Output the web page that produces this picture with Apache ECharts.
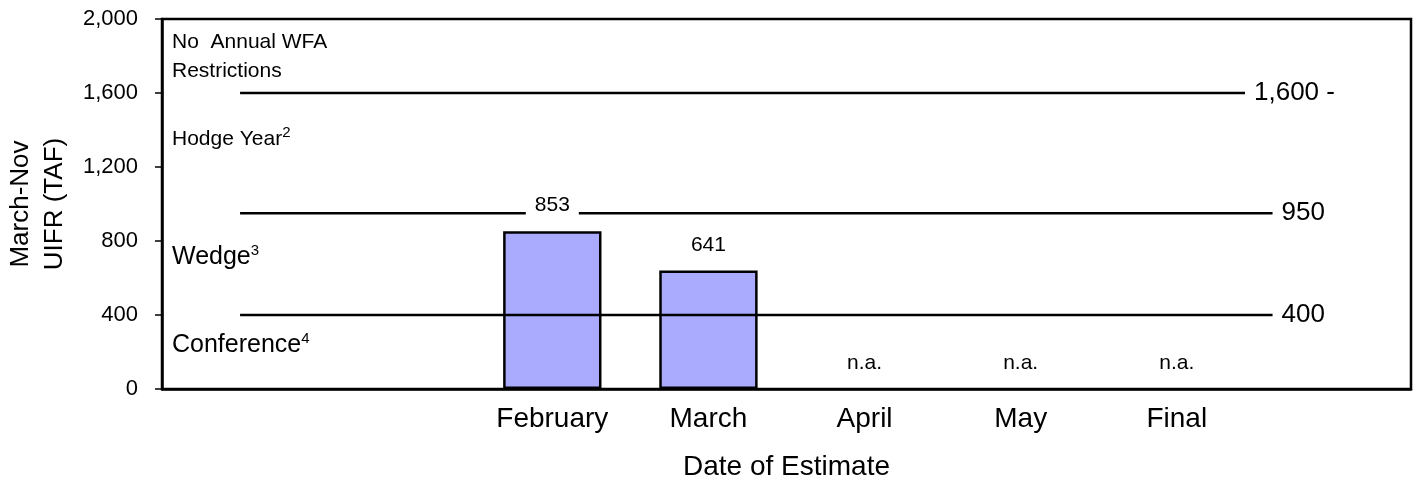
<!DOCTYPE html>
<html><head><meta charset="utf-8">
<script src="https://cdn.jsdelivr.net/npm/echarts@6/dist/echarts.min.js"></script>
<style>html,body{margin:0;padding:0;background:#fff}#c{width:1413px;height:481px}</style>
</head><body><div id="c"></div>
<script>
// ---- data ----
const categories = ['', '', 'February', 'March', 'April', 'May', 'Final', ''];
const uifrValues = [null, null, 853, 641, null, null, null, null];
const estimatedSlots = [false, false, true, true, true, true, true, false];
const naText = 'n.a.';
const thresholds = [1600, 950, 400];
const thresholdLabels = ['1,600 -', '950', '400'];
const yMin = 0, yMax = 2000, yInterval = 400;
const zoneTexts = ['No  Annual WFA\nRestrictions', 'Hodge Year{s|2}', '{b|Wedge}{s|3}', '{b|Conference}{s|4}'];
const yAxisTitle = 'March-Nov\nUIFR (TAF)';
const xAxisTitle = 'Date of Estimate';

const FONT = "'Liberation Sans', Arial, sans-serif";

const lineSeries = thresholds.map((t, k) => ({
  type: 'line', z: 2, symbol: 'circle', symbolSize: 0, silent: true,
  lineStyle: {color: '#000', width: 2.5},
  itemStyle: {color: '#000'},
  data: categories.map((c, i) => i === categories.length - 1 ? {
    value: t,
    label: {
      show: true, position: 'left', distance: -2,
      formatter: thresholdLabels[k], fontSize: 26, fontFamily: FONT, color: '#000',
      backgroundColor: '#fff', padding: [0, k === 0 ? 0 : 10, 0, 9]
    }
  } : t)
}));

const labelData = categories.map((c, i) => estimatedSlots[i]
  ? {value: uifrValues[i] == null ? 0 : uifrValues[i], name: uifrValues[i] == null ? naText : String(uifrValues[i])}
  : null);

const zoneTop = [28, 125, 243, 331];
const option = {
  animation: false,
  backgroundColor: '#fff',
  textStyle: {fontFamily: FONT},
  grid: {left: 162, right: 2, top: 19, bottom: 92, show: true, borderColor: '#000', borderWidth: 2.5,
    outerBoundsMode: 'none', containLabel: false},
  xAxis: {
    type: 'category', data: categories,
    axisLine: {lineStyle: {color: '#000', width: 2.5}},
    axisTick: {show: false},
    axisLabel: {color: '#000', fontSize: 28, fontFamily: FONT, margin: 16, interval: 0},
    name: xAxisTitle, nameLocation: 'middle', nameGap: 64,
    nameTextStyle: {color: '#000', fontSize: 28, fontFamily: FONT}
  },
  yAxis: {
    type: 'value', min: yMin, max: yMax, interval: yInterval,
    splitLine: {show: false},
    axisLine: {show: true, lineStyle: {color: '#000', width: 2.5}},
    axisTick: {show: true, length: 7, lineStyle: {color: '#000', width: 1.5}},
    axisLabel: {color: '#000', fontSize: 22, fontFamily: FONT, margin: 24,
      formatter: v => v.toLocaleString('en-US')},
    name: yAxisTitle, nameLocation: 'middle', nameGap: 88,
    nameTextStyle: {color: '#000', fontSize: 26, fontFamily: FONT, lineHeight: 34}
  },
  graphic: zoneTexts.map((t, i) => ({
    type: 'text', left: 172, top: zoneTop[i], z: 10,
    style: {
      text: t, fontSize: i < 2 ? 21 : 25, fontFamily: FONT, fill: '#000', lineHeight: 29,
      rich: {
        b: {fontSize: 25, fontFamily: FONT},
        s: {fontSize: 15, fontFamily: FONT, verticalAlign: 'top', padding: [0, 0, 8, 0]}
      }
    }
  })),
  series: [
    {
      type: 'bar', z: 1, data: uifrValues, barWidth: '63%',
      itemStyle: {color: '#AAAAFF', borderColor: '#000', borderWidth: 2.5}
    },
    ...lineSeries,
    {
      type: 'scatter', z: 3, symbolSize: 0, silent: true,
      itemStyle: {color: 'rgba(0,0,0,0)', opacity: 1},
      data: labelData,
      label: {
        show: true, position: 'top', distance: 13,
        formatter: p => p.name, fontSize: 21, fontFamily: FONT, color: '#000',
        backgroundColor: '#fff', padding: [2, 9], opacity: 1
      }
    }
  ]
};
echarts.init(document.getElementById('c')).setOption(option);
</script>
</body></html>
